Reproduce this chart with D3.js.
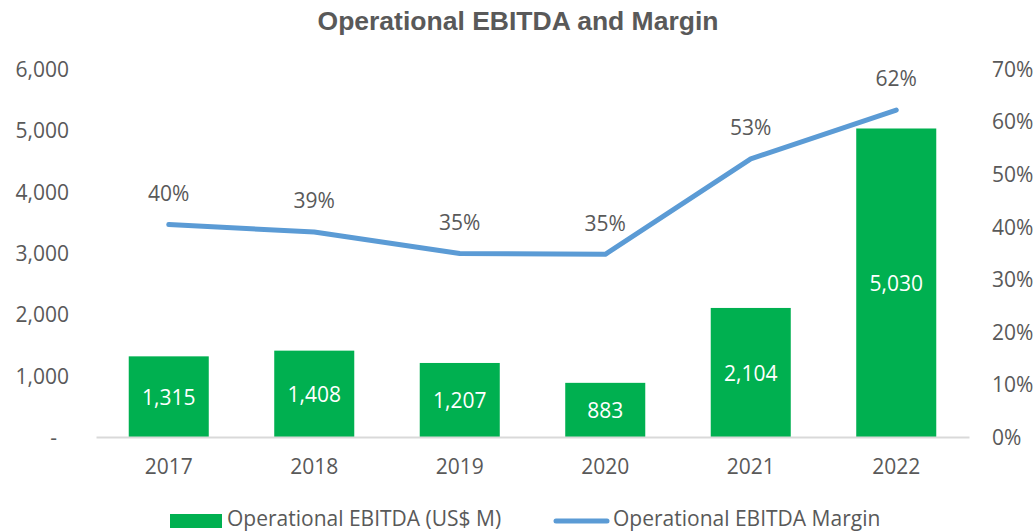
<!DOCTYPE html>
<html>
<head>
<meta charset="utf-8">
<script src="https://cdn.jsdelivr.net/npm/d3@7"></script>
<style>
  body { margin: 0; background: #fff; }
  svg text { font-family: "Open Sans", sans-serif; fill: #595959; }
</style>
</head>
<body>
<script>
'use strict';

const years = ["2017", "2018", "2019", "2020", "2021", "2022"];
const ebitda = [1315, 1408, 1207, 883, 2104, 5030];
const margin = [0.404, 0.39, 0.349, 0.3475, 0.529, 0.622];
const marginLabels = ["40%", "39%", "35%", "35%", "53%", "62%"];
const leftTicks = [0, 1000, 2000, 3000, 4000, 5000, 6000];
const rightTicks = [0, 0.1, 0.2, 0.3, 0.4, 0.5, 0.6, 0.7];

const W = 1036, H = 532;
const green = "#00B050", blue = "#5B9BD5";
const fs = "21px";

let svg = d3.select("body").append("svg")
  .attr("width", W)
  .attr("height", H);

// scales
let x = d3.scaleBand()
  .domain(years)
  .range([96, 969])
  .paddingInner(0.45)
  .paddingOuter(0.225);

let yL = d3.scaleLinear().domain([0, 6000]).range([437, 69]);
let yR = d3.scaleLinear().domain([0, 0.7]).range([437, 69]);

// title
svg.append("text")
  .attr("x", 518)
  .attr("y", 30)
  .attr("text-anchor", "middle")
  .style("font-family", "'Liberation Sans', Arial, sans-serif")
  .style("font-weight", "bold")
  .style("font-size", "26.5px")
  .text("Operational EBITDA and Margin");

// left axis
let leftAxis = d3.axisLeft(yL)
  .tickValues(leftTicks)
  .tickSize(0)
  .tickPadding(0)
  .tickFormat(d => d === 0 ? "-" : d3.format(",")(d));

let gl = svg.append("g")
  .attr("transform", "translate(69,0)")
  .call(leftAxis);
gl.select(".domain").remove();
gl.selectAll("text")
  .style("font-size", fs)
  .attr("dy", "0.35em")
  .attr("dx", d => d === 0 ? "-12px" : 0);

// right axis
let rightAxis = d3.axisRight(yR)
  .tickValues(rightTicks)
  .tickSize(0)
  .tickPadding(0)
  .tickFormat(d3.format(".0%"));

let gr = svg.append("g")
  .attr("transform", "translate(992,0)")
  .call(rightAxis);
gr.select(".domain").remove();
gr.selectAll("text")
  .style("font-size", fs)
  .attr("dy", "0.35em");

// bars
svg.selectAll(".bar")
  .data(ebitda)
  .enter()
  .append("rect")
  .attr("class", "bar")
  .attr("x", (d, i) => x(years[i]))
  .attr("width", x.bandwidth())
  .attr("y", d => yL(d))
  .attr("height", d => yL(0) - yL(d))
  .style("fill", green);

// bottom axis
let bottomAxis = d3.axisBottom(x).tickSize(0).tickPadding(0);
let gb = svg.append("g")
  .attr("transform", "translate(0,437)")
  .call(bottomAxis);
gb.select(".domain")
  .attr("stroke", "#D9D9D9")
  .attr("stroke-width", 2);
gb.selectAll("text")
  .style("font-size", fs)
  .attr("y", 30)
  .attr("dy", "0.35em");

// bar value labels
svg.selectAll(".barlabel")
  .data(ebitda)
  .enter()
  .append("text")
  .attr("x", (d, i) => x(years[i]) + x.bandwidth() / 2)
  .attr("y", d => (yL(d) + yL(0)) / 2 + 1)
  .attr("dy", "0.35em")
  .attr("text-anchor", "middle")
  .style("font-size", fs)
  .style("fill", "#fff")
  .text(d => d3.format(",")(d));

// margin line
let line = d3.line()
  .x((d, i) => x(years[i]) + x.bandwidth() / 2)
  .y(d => yR(d));

svg.append("path")
  .datum(margin)
  .attr("fill", "none")
  .attr("stroke", blue)
  .attr("stroke-width", 5)
  .attr("stroke-linejoin", "round")
  .attr("stroke-linecap", "round")
  .attr("d", line);

svg.selectAll(".linelabel")
  .data(margin)
  .enter()
  .append("text")
  .attr("x", (d, i) => x(years[i]) + x.bandwidth() / 2)
  .attr("y", d => yR(d) - 31)
  .attr("dy", "0.35em")
  .attr("text-anchor", "middle")
  .style("font-size", fs)
  .text((d, i) => marginLabels[i]);

// legend
let legend = svg.append("g");
legend.append("rect")
  .attr("x", 170).attr("y", 514)
  .attr("width", 52).attr("height", 14)
  .style("fill", green);
legend.append("text")
  .attr("x", 227).attr("y", 519)
  .attr("dy", "0.35em")
  .style("font-size", fs)
  .text("Operational EBITDA (US$ M)");
legend.append("line")
  .attr("x1", 556).attr("x2", 607)
  .attr("y1", 521).attr("y2", 521)
  .attr("stroke", blue)
  .attr("stroke-width", 5)
  .attr("stroke-linecap", "round");
legend.append("text")
  .attr("x", 613).attr("y", 519)
  .attr("dy", "0.35em")
  .style("font-size", fs)
  .text("Operational EBITDA Margin");
</script>
</body>
</html>
